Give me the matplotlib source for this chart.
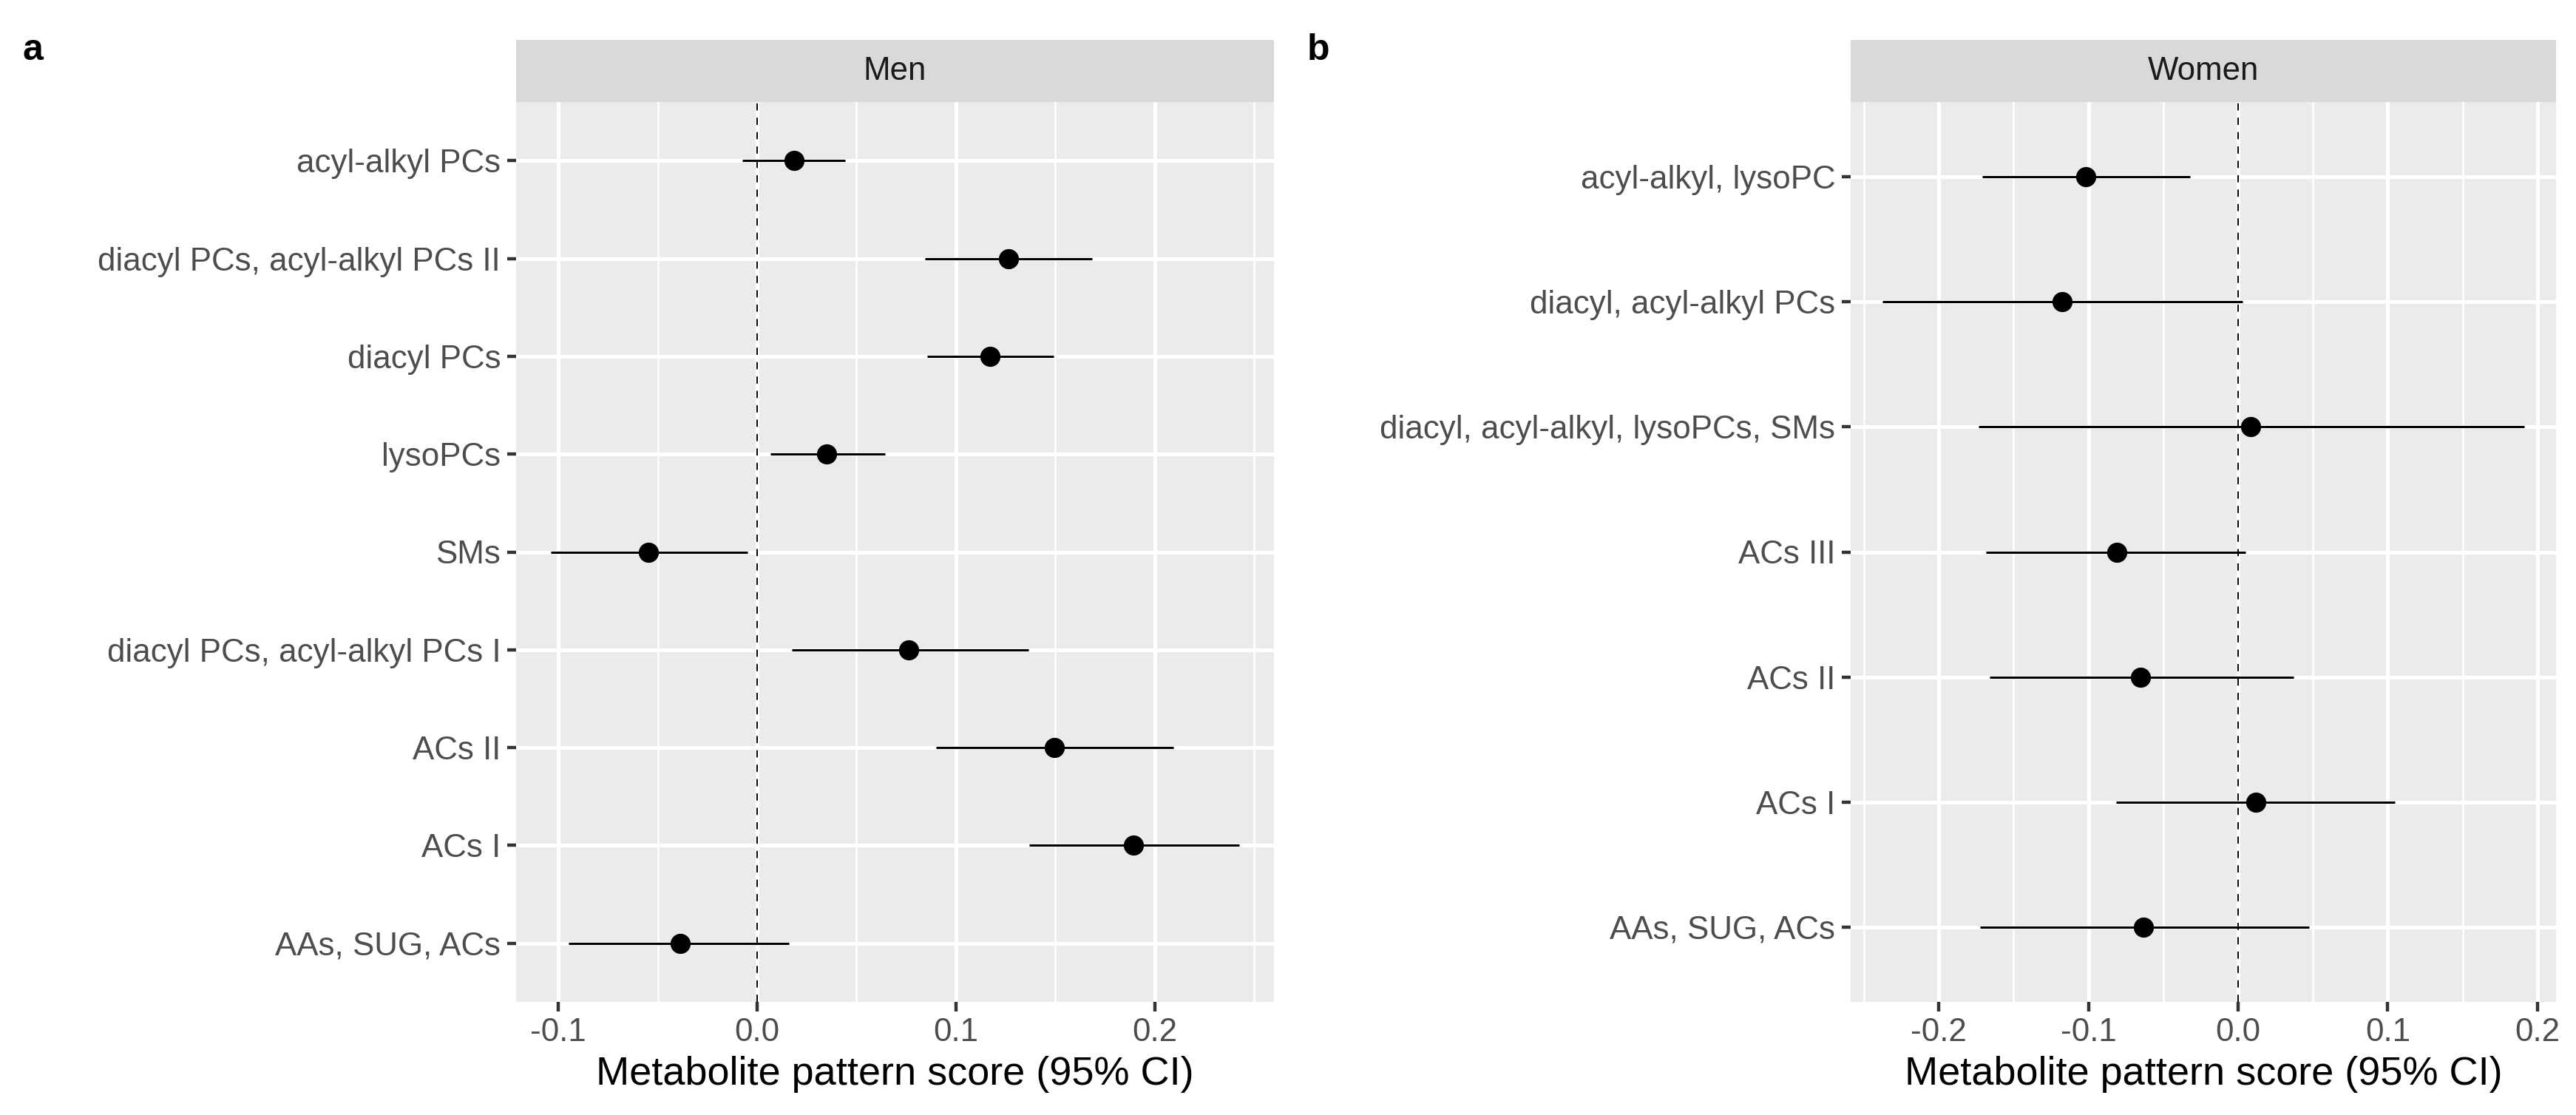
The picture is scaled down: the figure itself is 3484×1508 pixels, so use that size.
import numpy as np
import matplotlib
matplotlib.use('Agg')
import matplotlib.pyplot as plt
from matplotlib.ticker import MultipleLocator

plt.rcParams['font.family'] = ['Liberation Sans', 'DejaVu Sans']

# Men (panel a), top to bottom
men_labels = ['acyl-alkyl PCs', 'diacyl PCs, acyl-alkyl PCs II', 'diacyl PCs', 'lysoPCs', 'SMs',
              'diacyl PCs, acyl-alkyl PCs I', 'ACs II', 'ACs I', 'AAs, SUG, ACs']
men_est = [0.0185, 0.1264, 0.117, 0.035, -0.0548, 0.0762, 0.1494, 0.1895, -0.0389]
men_lo = [-0.0075, 0.0845, 0.0855, 0.0067, -0.104, 0.0176, 0.0900, 0.1368, -0.0950]
men_hi = [0.0444, 0.1686, 0.1490, 0.0644, -0.0050, 0.1364, 0.2096, 0.2427, 0.0159]

# Women (panel b), top to bottom
women_labels = ['acyl-alkyl, lysoPC', 'diacyl, acyl-alkyl PCs', 'diacyl, acyl-alkyl, lysoPCs, SMs',
                'ACs III', 'ACs II', 'ACs I', 'AAs, SUG, ACs']
women_est = [-0.1019, -0.1174, 0.0083, -0.0810, -0.0650, 0.0116, -0.0634]
women_lo = [-0.1708, -0.2375, -0.1736, -0.1686, -0.1658, -0.0815, -0.1725]
women_hi = [-0.0320, 0.0028, 0.1910, 0.0050, 0.0369, 0.1047, 0.0474]

W, H = 3484, 1508
DPI = 200
fig = plt.figure(figsize=(W / DPI, H / DPI), dpi=DPI)


def px(l, t, r, b):
    return [l / W, 1 - b / H, (r - l) / W, (b - t) / H]


def forest(rect, strip_rect, labels, est, lo, hi, title, major, minor):
    ax = fig.add_axes(px(*rect))
    n = len(labels)
    y = np.arange(n)
    ax.set_facecolor('#EBEBEB')
    lo_all, hi_all = min(lo), max(hi)
    pad = 0.05 * (hi_all - lo_all)
    ax.set_xlim(lo_all - pad, hi_all + pad)
    ax.set_ylim(n - 1 + 0.6, -0.6)
    ax.xaxis.set_major_locator(MultipleLocator(major))
    ax.xaxis.set_minor_locator(MultipleLocator(minor))
    ax.grid(which='major', color='white', linewidth=1.8)
    ax.grid(which='minor', axis='x', color='white', linewidth=0.9)
    ax.set_axisbelow(True)
    for s in ax.spines.values():
        s.set_visible(False)
    ax.axvline(0, color='black', linewidth=0.7, linestyle=(0, (5, 5)), zorder=2)
    ax.hlines(y, lo, hi, color='black', linewidth=1.1, zorder=3)
    ax.plot(est, y, 'o', color='black', markersize=8.8, zorder=4)
    ax.set_yticks(y)
    ax.set_yticklabels(labels)
    ax.tick_params(axis='both', which='major', length=4.5, width=1.6, color='#333333',
                   labelsize=15.8, labelcolor='#4D4D4D', pad=3)
    ax.tick_params(axis='x', which='minor', length=0)
    ax.xaxis.set_major_formatter(matplotlib.ticker.FuncFormatter(lambda v, p: '%.1f' % v))
    ax.set_xlabel('Metabolite pattern score (95% CI)', fontsize=19.5, color='black', labelpad=4)

    sax = fig.add_axes(px(*strip_rect))
    sax.set_facecolor('#D9D9D9')
    sax.set_xticks([])
    sax.set_yticks([])
    for s in sax.spines.values():
        s.set_visible(False)
    sax.text(0.5, 0.5, title, ha='center', va='center', fontsize=15.8, color='#1A1A1A',
             transform=sax.transAxes)
    return ax


forest((698, 138, 1723, 1355), (698, 54, 1723, 138), men_labels, men_est, men_lo, men_hi, 'Men', 0.1, 0.05)
forest((2503, 138, 3457, 1355), (2503, 54, 3457, 138), women_labels, women_est, women_lo, women_hi, 'Women', 0.1, 0.05)

fig.text(30 / W, 1 - 68 / H, 'a', fontsize=18, fontweight='bold', va='center', ha='left')
fig.text(1768 / W, 1 - 68 / H, 'b', fontsize=18, fontweight='bold', va='center', ha='left')

fig.savefig('out.png', dpi=DPI)
